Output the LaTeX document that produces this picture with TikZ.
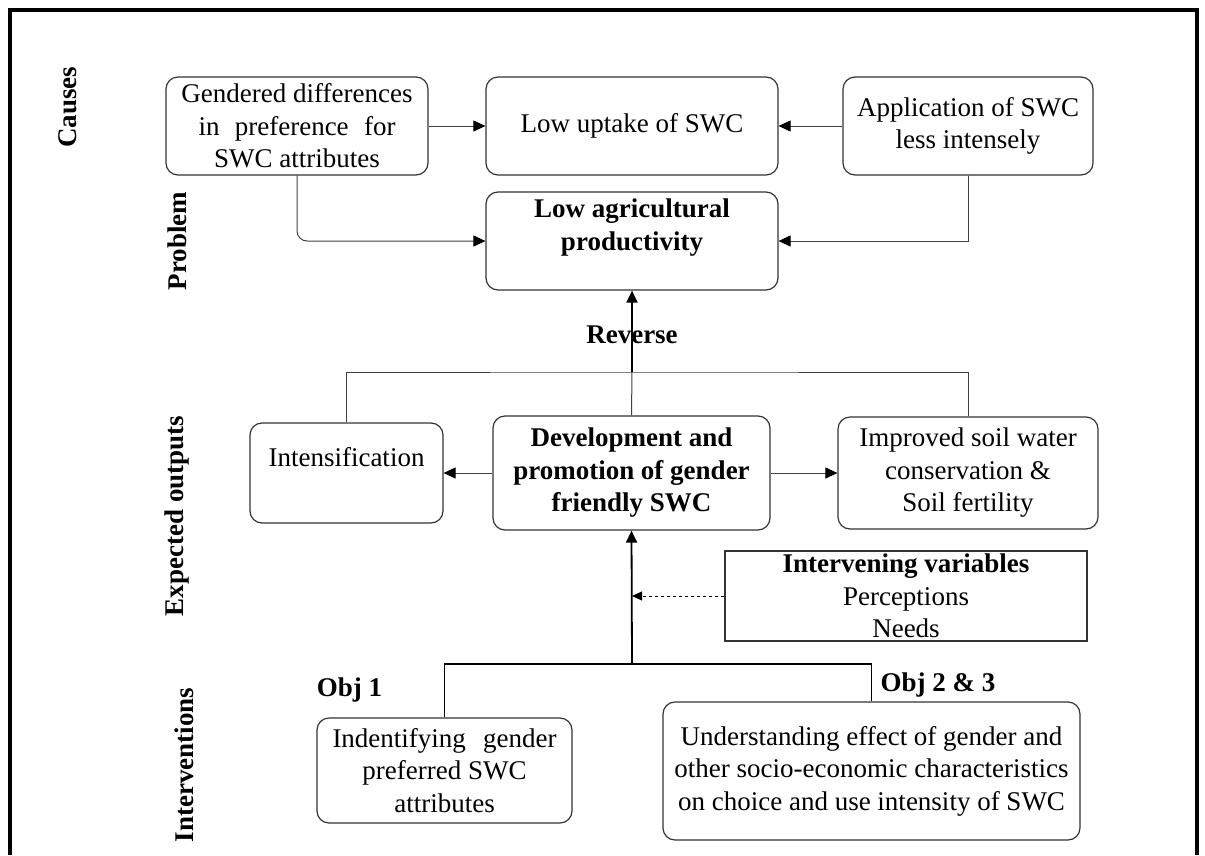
\documentclass[tikz,border=0pt]{standalone}
\usepackage{fontspec}
\setmainfont{Liberation Serif}
\usetikzlibrary{arrows.meta}
\begin{document}
\begin{tikzpicture}[x=1pt,y=-1pt,
  every node/.style={font=\fontsize{27}{32.5}\selectfont},
  box/.style={draw=black!80, line width=1.2pt, rounded corners=12pt, align=center, inner sep=0pt},
  sqbox/.style={draw=black!80, line width=1.2pt, align=center, inner sep=0pt},
  head/.style={font=\fontsize{27}{32.5}\selectfont\bfseries},
  conn/.style={draw=black!75, line width=1pt},
  thickconn/.style={draw=black, line width=1.8pt},
  tip/.style={-{Triangle[length=12pt,width=11pt,color=black]}},
]
\useasboundingbox (0,0) rectangle (1205,855);
\draw[line width=3.5pt] (10,855) -- (10,10) -- (1197,10) -- (1197,855);

% side labels
\node[head, rotate=90] (lcauses) at (68,107) {Causes};
\node[head, rotate=90] (lproblem) at (177,241) {Problem};
\node[head, rotate=90] (lexpected) at (177,516) {Expected outputs};
\node[head, rotate=90] (linterv) at (184,765) {Interventions};

% boxes
\node[box, minimum width=262pt, minimum height=98pt] (gend) at (297,126)
  {Gendered differences\\\makebox[197pt][s]{in preference for}\\SWC attributes};
\node[box, minimum width=292pt, minimum height=98pt] (lowup) at (632,126)
  {Low uptake of SWC};
\node[box, minimum width=250pt, minimum height=98pt] (app) at (968,126)
  {Application of SWC\\less intensely};
\node[box, minimum width=292pt, minimum height=98pt] (lowagri) at (632,241)
  {\textbf{Low agricultural}\\\textbf{productivity}\\\mbox{}};
\node[box, minimum width=193pt, minimum height=100pt] (intens) at (346.5,473)
  {Intensification\\\mbox{}};
\node[box, minimum width=277pt, minimum height=114pt] (dev) at (631.5,473)
  {\textbf{Development and}\\\textbf{promotion of gender}\\\textbf{friendly SWC}};
\node[box, minimum width=260pt, minimum height=112pt] (impr) at (968,473)
  {Improved soil water\\conservation \&\\Soil fertility};
\node[sqbox, minimum width=362pt, minimum height=90pt] (intv) at (906,596)
  {\textbf{Intervening variables}\\Perceptions\\Needs};
\node[box, minimum width=255pt, minimum height=105pt] (obj1) at (444.5,770.5)
  {\makebox[224pt][s]{Indentifying gender}\\preferred SWC\\attributes};
\node[box, minimum width=417pt, minimum height=138pt] (und) at (871.5,771)
  {Understanding effect of gender and\\other socio-economic characteristics\\on choice and use intensity of SWC};

\node[head] (lobj1) at (349.5,690) {Obj 1};
\node[head] (lobj23) at (938,685) {Obj 2 \& 3};
\node[head] (lrev) at (632,335) {Reverse};

% top connectors
\draw[conn, tip] (gend.east) -- (lowup.west);
\draw[conn, tip] (app.west) -- (lowup.east);
\draw[conn, tip, rounded corners=10pt] (gend.south) |- (lowagri.west);
\draw[conn, tip] (app.south) |- (lowagri.east);

% expected outputs bracket
\coordinate (rev) at (632,372);
\draw[conn] (intens.north) |- (rev) -| (impr.north);
\draw[conn] (dev.north) -- (rev);
\draw[thickconn, tip] (rev) -- (lowagri.south);
\draw[conn, tip] (dev.west) -- (intens.east);
\draw[conn, tip] (dev.east) -- (impr.west);

% interventions bracket
\coordinate (ij) at (632,664);
\draw[thickconn] (obj1.north) |- (ij) -| (und.north);
\draw[thickconn, tip] (ij) -- (dev.south);
\draw[draw=black, dashed, line width=0.9pt, -{Triangle[length=10pt,width=9pt,color=black]}] (intv.west) -- (intv.west -| ij);
\end{tikzpicture}
\end{document}
